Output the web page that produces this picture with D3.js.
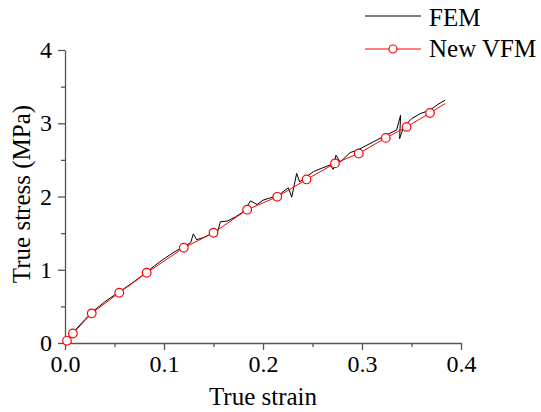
<!DOCTYPE html>
<html>
<head>
<meta charset="utf-8">
<script src="https://cdn.jsdelivr.net/npm/d3@7"></script>
<style>
  body { margin: 0; background: #fff; }
  svg { display: block; font-family: "Liberation Serif", "Times New Roman", serif; }
  .axis path, .axis line { stroke: #555; }
  .axis text { font-size: 24px; fill: #000; font-family: "Liberation Serif", serif; }
</style>
</head>
<body>
<svg width="541" height="412"></svg>
<script>
// FEM curve (strain, stress)
var femStrain = [0, 0.005, 0.01, 0.02, 0.03, 0.04, 0.05, 0.06, 0.07, 0.08, 0.09, 0.1, 0.11, 0.12, 0.127,
    0.1296, 0.133, 0.14, 0.148, 0.153, 0.157, 0.164, 0.172, 0.18, 0.1875, 0.194, 0.2, 0.207, 0.215,
    0.2256, 0.229, 0.234, 0.237, 0.244, 0.251, 0.26, 0.2677, 0.271, 0.2737, 0.278, 0.288, 0.295,
    0.3114, 0.325, 0.335, 0.339, 0.338, 0.342, 0.35, 0.3586, 0.3687, 0.377, 0.384];
var femStress = [0, 0.09, 0.17, 0.32, 0.45, 0.56, 0.655, 0.745, 0.84, 0.94, 1.05, 1.15, 1.24, 1.315, 1.37,
    1.49, 1.41, 1.44, 1.49, 1.46, 1.655, 1.665, 1.72, 1.79, 1.94, 1.89, 1.95, 1.98, 2.01,
    2.12, 1.99, 2.315, 2.2, 2.27, 2.34, 2.39, 2.43, 2.37, 2.565, 2.47, 2.6, 2.63,
    2.746, 2.84, 2.91, 3.11, 2.79, 2.95, 3.06, 3.13, 3.18, 3.26, 3.315];

// New VFM curve; every point but the last carries a marker
var vfmStrain = [0.002, 0.008, 0.027, 0.0548, 0.0825, 0.12, 0.15, 0.184, 0.2144, 0.244, 0.2727, 0.2967, 0.324, 0.345, 0.3687, 0.384];
var vfmStress = [0.03, 0.13, 0.405, 0.686, 0.959, 1.3, 1.505, 1.82, 1.996, 2.233, 2.452, 2.588, 2.8, 2.95, 3.14, 3.27];

var xTicks = [0, 0.1, 0.2, 0.3, 0.4];
var yTicks = [0, 1, 2, 3, 4];
var seriesNames = ["FEM", "New VFM"];

var svg = d3.select("svg");

var x = d3.scaleLinear().domain([0, 0.4]).range([65, 461]);
var y = d3.scaleLinear().domain([0, 4]).range([343, 50]);

var fem = femStrain.map(function (d, i) { return [d, femStress[i]]; });
var vfm = vfmStrain.map(function (d, i) { return [d, vfmStress[i]]; });

// minor ticks
svg.append("g")
    .attr("class", "axis")
    .attr("transform", "translate(0,343)")
    .call(d3.axisBottom(x).tickValues(d3.range(0.05, 0.4, 0.1)).tickSize(4).tickFormat(""))
    .select(".domain").remove();
svg.append("g")
    .attr("class", "axis")
    .attr("transform", "translate(65,0)")
    .call(d3.axisLeft(y).tickValues(d3.range(0.5, 4, 1)).tickSize(4).tickFormat(""))
    .select(".domain").remove();

// major axes
svg.append("g")
    .attr("class", "axis")
    .attr("transform", "translate(0,343)")
    .call(d3.axisBottom(x).tickValues(xTicks).tickSize(7).tickSizeOuter(0).tickPadding(5).tickFormat(d3.format(".1f")));

svg.append("g")
    .attr("class", "axis")
    .attr("transform", "translate(65,0)")
    .call(d3.axisLeft(y).tickValues(yTicks).tickSize(7).tickSizeOuter(0).tickPadding(6).tickFormat(d3.format("d")));

svg.selectAll(".axis path, .axis line").attr("stroke-width", 1.3);

// axis titles
svg.append("text")
    .attr("x", 263).attr("y", 405)
    .attr("text-anchor", "middle")
    .style("font-size", "25px")
    .text("True strain");

svg.append("text")
    .attr("transform", "translate(30,194) rotate(-90)")
    .attr("text-anchor", "middle")
    .style("font-size", "25px")
    .text("True stress (MPa)");

var line = d3.line()
    .x(function (d) { return x(d[0]); })
    .y(function (d) { return y(d[1]); });

svg.append("path")
    .datum(fem)
    .attr("fill", "none")
    .attr("stroke", "#000")
    .attr("stroke-width", 1)
    .attr("d", line);

svg.append("path")
    .datum(vfm)
    .attr("fill", "none")
    .attr("stroke", "#ff0000")
    .attr("stroke-width", 1)
    .attr("d", line);

svg.selectAll(".mark")
    .data(vfm.slice(0, vfm.length - 1))
    .enter().append("circle")
    .attr("class", "mark")
    .attr("cx", function (d) { return x(d[0]); })
    .attr("cy", function (d) { return y(d[1]); })
    .attr("r", 4.3)
    .attr("fill", "#fff")
    .attr("stroke", "#ff0000")
    .attr("stroke-width", 1.2);

// legend
var legend = svg.append("g");
legend.append("line")
    .attr("x1", 365).attr("x2", 421).attr("y1", 16).attr("y2", 16)
    .attr("stroke", "#000").attr("stroke-width", 1);
legend.append("text")
    .attr("x", 429).attr("y", 26)
    .style("font-size", "25px")
    .text(seriesNames[0]);

legend.append("line")
    .attr("x1", 365).attr("x2", 421).attr("y1", 49).attr("y2", 49)
    .attr("stroke", "#ff0000").attr("stroke-width", 1);
legend.append("circle")
    .attr("cx", 393).attr("cy", 49).attr("r", 4)
    .attr("fill", "#fff").attr("stroke", "#ff0000").attr("stroke-width", 1.2);
legend.append("text")
    .attr("x", 429).attr("y", 57)
    .style("font-size", "25px")
    .text(seriesNames[1]);
</script>
</body>
</html>
